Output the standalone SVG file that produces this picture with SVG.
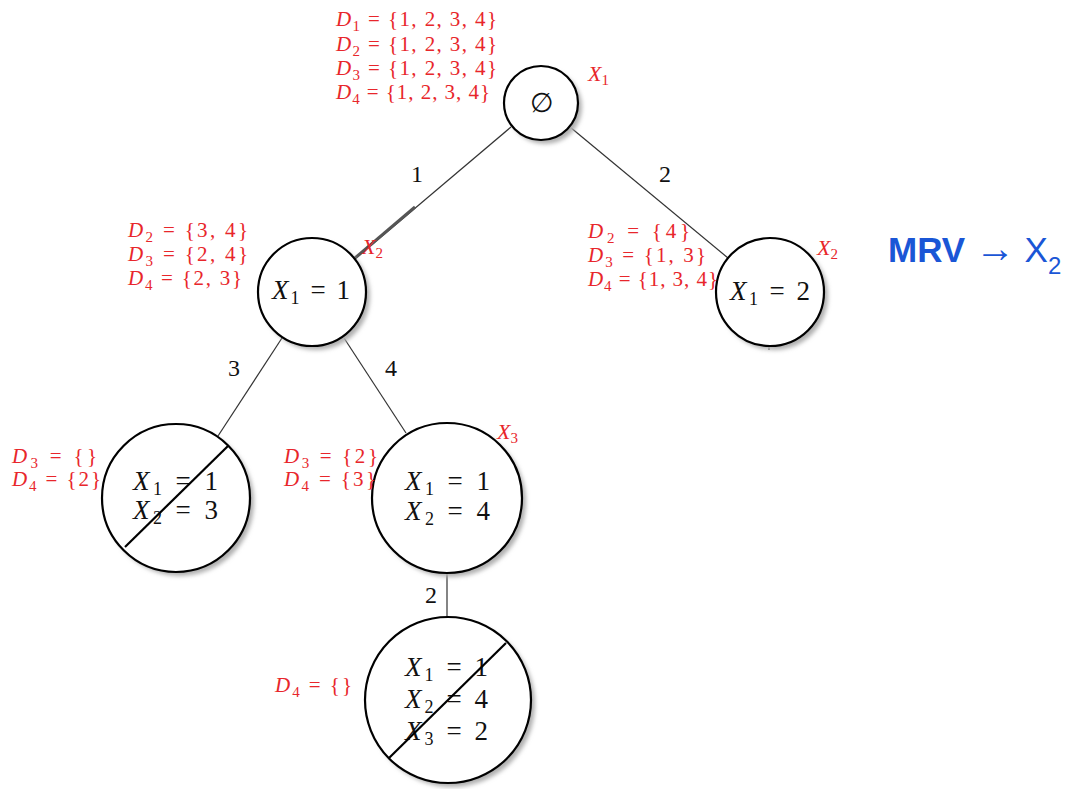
<svg xmlns="http://www.w3.org/2000/svg" width="1071" height="789" viewBox="0 0 1071 789">
<defs>
<filter id="blur" x="-20%" y="-20%" width="140%" height="140%"><feGaussianBlur stdDeviation="2"/></filter>
<style>
.shadow{fill:#b0b0b0;filter:url(#blur)}
.node{fill:#fff;stroke:#000;stroke-width:2.2}
.edge{stroke:#333;stroke-width:1.2;fill:none}
.strike{stroke:#000;stroke-width:2.2}
.dom{font-family:"Liberation Serif",serif;font-size:21px;fill:#e8262b}
.var{font-family:"Liberation Serif",serif;font-size:22px;fill:#e8262b;font-style:italic}
.lab{font-family:"Liberation Serif",serif;font-size:24px;fill:#111;text-anchor:middle}
.ntxt{font-family:"Liberation Serif",serif;font-size:27px;fill:#111}
.i{font-style:italic}
.mrv{font-family:"Liberation Sans",Arial,sans-serif;font-size:35px;fill:#1a56d6}
</style>
</defs>
<rect width="1071" height="789" fill="#fff"/>
<g id="connectors">
<line class="edge" x1="511" y1="127" x2="355" y2="259"/>
<line x1="415" y1="207" x2="355" y2="258" stroke="#555" stroke-width="3"/>
<line class="edge" x1="570" y1="127" x2="728" y2="258"/>
<line class="edge" x1="282" y1="338" x2="218" y2="436"/>
<line class="edge" x1="344" y1="338" x2="406" y2="433"/>
<line class="edge" x1="447" y1="572" x2="447" y2="617"/>
<line class="edge" x1="769" y1="345" x2="769" y2="350"/>
<text class="lab" x="417" y="182">1</text>
<text class="lab" x="665" y="182">2</text>
<text class="lab" x="234" y="376">3</text>
<text class="lab" x="391" y="376">4</text>
<text class="lab" x="431" y="603">2</text>
</g>
<g id="root">
<circle class="shadow" cx="545" cy="107" r="37"/>
<circle class="node" cx="541" cy="103" r="37"/>
<text class="ntxt" x="542" y="112" text-anchor="middle" font-size="24">∅</text>
<text class="dom" y="26" x="336" textLength="161"><tspan class="i">D</tspan><tspan font-size="15" dy="5">1</tspan><tspan dy="-5"> = {1, 2, 3, 4}</tspan></text>
<text class="dom" y="50.5" x="336" textLength="161"><tspan class="i">D</tspan><tspan font-size="15" dy="5">2</tspan><tspan dy="-5"> = {1, 2, 3, 4}</tspan></text>
<text class="dom" y="75" x="336" textLength="161"><tspan class="i">D</tspan><tspan font-size="15" dy="5">3</tspan><tspan dy="-5"> = {1, 2, 3, 4}</tspan></text>
<text class="dom" y="99" x="336" textLength="154"><tspan class="i">D</tspan><tspan font-size="15" dy="5">4</tspan><tspan dy="-5"> = {1, 2, 3, 4}</tspan></text>
<text class="var" x="588" y="81">X<tspan font-size="15" font-style="normal" dy="4">1</tspan></text>
</g>
<g id="n_x1_1">
<circle class="shadow" cx="316" cy="296" r="54"/>
<circle class="node" cx="312" cy="292" r="54"/>
<text class="ntxt" x="272" y="299" textLength="78"><tspan class="i">X</tspan><tspan font-size="18" dy="5">1</tspan><tspan dy="-5"> = 1</tspan></text>
<text class="dom" y="237" x="128" textLength="120"><tspan class="i">D</tspan><tspan font-size="15" dy="5">2</tspan><tspan dy="-5"> = {3, 4}</tspan></text>
<text class="dom" y="261" x="128" textLength="120"><tspan class="i">D</tspan><tspan font-size="15" dy="5">3</tspan><tspan dy="-5"> = {2, 4}</tspan></text>
<text class="dom" y="285" x="128" textLength="114"><tspan class="i">D</tspan><tspan font-size="15" dy="5">4</tspan><tspan dy="-5"> = {2, 3}</tspan></text>
<text class="var" x="362" y="254">X<tspan font-size="15" font-style="normal" dy="4">2</tspan></text>
</g>
<g id="n_x1_2">
<circle class="shadow" cx="774" cy="296" r="54"/>
<circle class="node" cx="770" cy="292" r="54"/>
<text class="ntxt" x="730" y="300" textLength="80"><tspan class="i">X</tspan><tspan font-size="18" dy="5">1</tspan><tspan dy="-5"> = 2</tspan></text>
<text class="dom" y="238" x="588" textLength="102"><tspan class="i">D</tspan><tspan font-size="15" dy="5">2</tspan><tspan dy="-5"> = {4}</tspan></text>
<text class="dom" y="262" x="588" textLength="118"><tspan class="i">D</tspan><tspan font-size="15" dy="5">3</tspan><tspan dy="-5"> = {1, 3}</tspan></text>
<text class="dom" y="286" x="588" textLength="130"><tspan class="i">D</tspan><tspan font-size="15" dy="5">4</tspan><tspan dy="-5"> = {1, 3, 4}</tspan></text>
<text class="var" x="817" y="255">X<tspan font-size="15" font-style="normal" dy="4">2</tspan></text>
</g>
<g id="n_x2_3">
<circle class="shadow" cx="180" cy="502" r="74"/>
<circle class="node" cx="176" cy="498" r="74"/>
<text class="ntxt" x="133" y="490" textLength="85"><tspan class="i">X</tspan><tspan font-size="18" dy="5">1</tspan><tspan dy="-5"> = 1</tspan></text>
<text class="ntxt" x="133" y="519" textLength="85"><tspan class="i">X</tspan><tspan font-size="18" dy="5">2</tspan><tspan dy="-5"> = 3</tspan></text>
<line class="strike" x1="125" y1="547" x2="228" y2="446"/>
<text class="dom" y="463" x="12" textLength="85"><tspan class="i">D</tspan><tspan font-size="15" dy="5">3</tspan><tspan dy="-5"> = {}</tspan></text>
<text class="dom" y="486" x="12" textLength="89"><tspan class="i">D</tspan><tspan font-size="15" dy="5">4</tspan><tspan dy="-5"> = {2}</tspan></text>
</g>
<g id="n_x2_4">
<circle class="shadow" cx="451" cy="502" r="75"/>
<circle class="node" cx="447" cy="498" r="75"/>
<text class="ntxt" x="405" y="490" textLength="85"><tspan class="i">X</tspan><tspan font-size="18" dy="5">1</tspan><tspan dy="-5"> = 1</tspan></text>
<text class="ntxt" x="405" y="520" textLength="85"><tspan class="i">X</tspan><tspan font-size="18" dy="5">2</tspan><tspan dy="-5"> = 4</tspan></text>
<text class="dom" y="463" x="284" textLength="94"><tspan class="i">D</tspan><tspan font-size="15" dy="5">3</tspan><tspan dy="-5"> = {2}</tspan></text>
<text class="dom" y="486" x="284" textLength="92"><tspan class="i">D</tspan><tspan font-size="15" dy="5">4</tspan><tspan dy="-5"> = {3}</tspan></text>
<text class="var" x="497" y="439">X<tspan font-size="15" font-style="normal" dy="4">3</tspan></text>
</g>
<g id="n_x3_2">
<circle class="shadow" cx="452" cy="704" r="83"/>
<circle class="node" cx="448" cy="700" r="83"/>
<text class="ntxt" x="405" y="676" textLength="83"><tspan class="i">X</tspan><tspan font-size="18" dy="5">1</tspan><tspan dy="-5"> = 1</tspan></text>
<text class="ntxt" x="405" y="708" textLength="83"><tspan class="i">X</tspan><tspan font-size="18" dy="5">2</tspan><tspan dy="-5"> = 4</tspan></text>
<text class="ntxt" x="405" y="740" textLength="83"><tspan class="i">X</tspan><tspan font-size="18" dy="5">3</tspan><tspan dy="-5"> = 2</tspan></text>
<line class="strike" x1="389" y1="758" x2="506" y2="643"/>
<text class="dom" y="692" x="275" textLength="77"><tspan class="i">D</tspan><tspan font-size="15" dy="5">4</tspan><tspan dy="-5"> = {}</tspan></text>
</g>
<g id="mrv">
<text class="mrv" x="888" y="262"><tspan font-weight="bold">MRV</tspan> <tspan font-size="40">→</tspan> X<tspan font-size="24" dy="12">2</tspan></text>
</g>
</svg>
